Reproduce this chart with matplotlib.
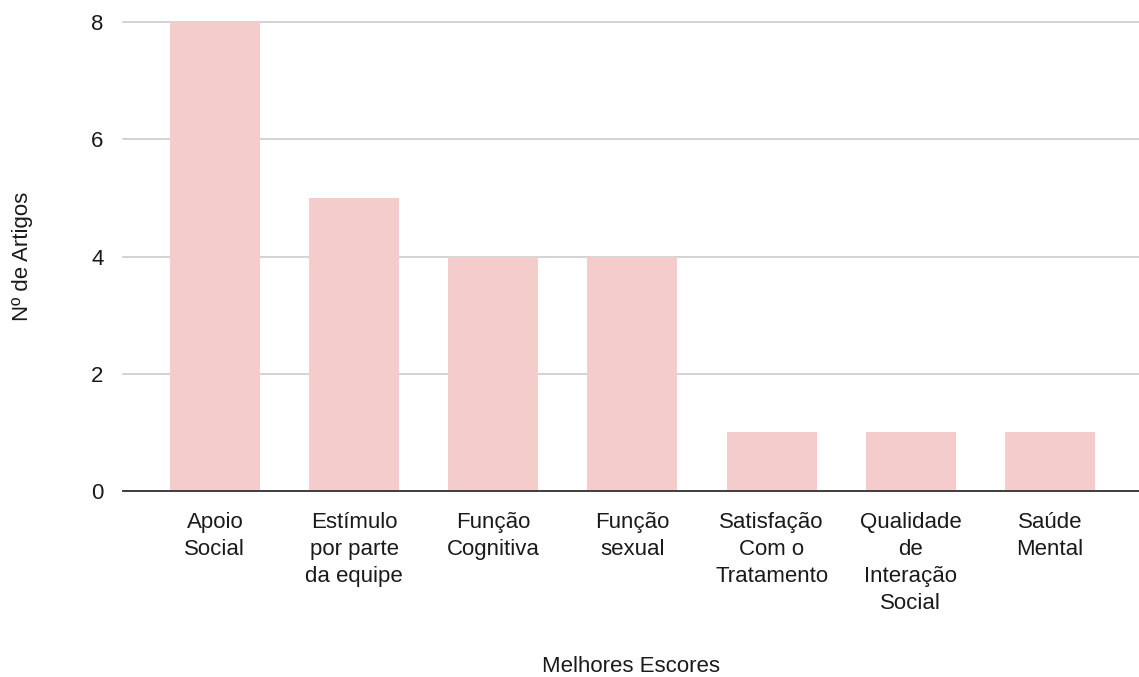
import matplotlib
matplotlib.use("Agg")
import matplotlib.pyplot as plt

plt.rcParams['font.family'] = ['Liberation Sans', 'DejaVu Sans']

categorias = [
    "Apoio\nSocial",
    "Estímulo\npor parte\nda equipe",
    "Função\nCognitiva",
    "Função\nsexual",
    "Satisfação\nCom o\nTratamento",
    "Qualidade\nde\nInteração\nSocial",
    "Saúde\nMental",
]
artigos = [8, 5, 4, 4, 1, 1, 1]
yticks = [0, 2, 4, 6, 8]

fs = 16
cor_texto = '#1a1a1a'

fig = plt.figure(figsize=(11.39, 6.77), dpi=100)
ax = fig.add_axes([0.108, 0.2747, 0.892, 0.6928])

x = list(range(len(categorias)))
ax.bar(x, artigos, width=0.646, color='#f4cccc', zorder=2)

ax.set_xlim(-0.66, 6.64)
ax.set_ylim(0, 8)
ax.set_yticks(yticks)
ax.set_yticklabels([str(v) for v in yticks], fontsize=fs, color=cor_texto)
ax.set_xticks(x)
ax.set_xticklabels(categorias, fontsize=fs, color=cor_texto, linespacing=1.38, va='top')

ax.grid(axis='y', color='#cccccc', linewidth=1.2, zorder=0)
for gl in ax.get_ygridlines():
    gl.set_clip_on(False)
ax.tick_params(axis='both', length=0)
ax.tick_params(axis='y', pad=14)
ax.tick_params(axis='x', pad=15)

for s in ['top', 'right', 'left']:
    ax.spines[s].set_visible(False)
ax.spines['bottom'].set_color('#333333')
ax.spines['bottom'].set_linewidth(1.3)
ax.spines['bottom'].set_zorder(3)

ax.set_ylabel('Nº de Artigos', fontsize=fs, color=cor_texto)
ax.set_xlabel('Melhores Escores', fontsize=fs, color=cor_texto)
ax.yaxis.set_label_coords(-0.089, 0.5)
ax.xaxis.set_label_coords(0.5, -0.352)

fig.savefig('out.png', dpi=100)
